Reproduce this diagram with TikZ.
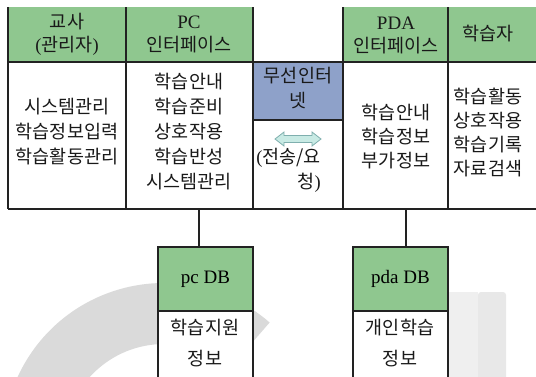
\documentclass[tikz,border=0pt]{standalone}
\usepackage{fontspec}
\setmainfont{Liberation Serif}
\newfontfamily\kr{Noto Sans CJK KR}

\definecolor{hdrgreen}{HTML}{8FC78F}
\definecolor{netblue}{HTML}{8EA1C9}
\definecolor{arrowfill}{HTML}{C8EAE4}
\definecolor{arrowline}{HTML}{7FAFAE}
\definecolor{gridline}{HTML}{222222}
\definecolor{wmgray}{HTML}{DADADA}
\definecolor{wmlight}{HTML}{EFEFEF}
\definecolor{wmbar}{HTML}{E8E8E8}

\newcommand\serifpart[1]{{\fontspec{Liberation Serif}#1}}

\begin{document}
\begin{tikzpicture}[x=1pt,y=-1pt,
  cellbox/.style={inner sep=0pt, outer sep=0pt, anchor=north west},
  hdrcell/.style={cellbox, fill=hdrgreen},
  bodycell/.style={cellbox, fill=white},
  gridrule/.style={draw=gridline, line width=1.1pt},
  label/.style={inner sep=0pt, align=center, text=black!90,
    font=\kr\fontsize{18.5}{25}\selectfont},
  hdrlabel/.style={label, font=\kr\fontsize{18.5}{23}\selectfont},
  dblabel/.style={label, font=\kr\fontsize{18.5}{31}\selectfont},
]
\useasboundingbox (0,0) rectangle (536,376);
\clip (0,0) rectangle (536,376);
\fill[white] (0,0) rectangle (536,376);

% faint backdrop shapes
\fill[wmgray] (164pt,-444pt) ++(200:161pt)
  arc[start angle=200, end angle=49, radius=161pt]
  -- (164pt,-444pt) ++(45:100pt)
  arc[start angle=45, end angle=200, radius=100pt] -- cycle;
\fill[wmlight] (449,292) rectangle (478,380);
\fill[wmbar, rounded corners=3pt] (478,292) -- (506,292) -- (506,380) -- (478,380) -- cycle;

% header row
\node[hdrcell, minimum width=118pt, minimum height=55pt] (h1) at (8,7) {};
\node[hdrcell, minimum width=127pt, minimum height=55pt] (h2) at (126,7) {};
\node[hdrcell, minimum width=105pt, minimum height=55pt] (h4) at (343,7) {};
\node[hdrcell, minimum width=90pt, minimum height=55pt] (h5) at (448,7) {};

% wireless cell
\node[cellbox, fill=netblue, minimum width=90pt, minimum height=58pt] (net) at (253,62) {};

% lower database boxes
\node[hdrcell, minimum width=95pt, minimum height=64pt] (pcdb) at (158,247) {};
\node[bodycell, minimum width=95pt, minimum height=70pt] (pcinfo) at (158,311) {};
\node[hdrcell, minimum width=95pt, minimum height=64pt] (pdadb) at (353,247) {};
\node[bodycell, minimum width=95pt, minimum height=70pt] (pdainfo) at (353,311) {};

% table rules
\path[gridrule]
  (8,7) -- (8,209)
  (126,7) -- (126,209)
  (253,7) -- (253,209)
  (343,7) -- (343,209)
  (448,7) -- (448,209)
  (8,62) -- (536,62)
  (253,120) -- (343,120)
  (8,209) -- (536,209);

% database box outlines (open at the bottom)
\path[gridrule]
  (pcinfo.south west) -- (pcdb.north west) -- (pcdb.north east) -- (pcinfo.south east)
  (pcdb.south west) -- (pcdb.south east)
  (pdainfo.south west) -- (pdadb.north west) -- (pdadb.north east) -- (pdainfo.south east)
  (pdadb.south west) -- (pdadb.south east);

% links from the table down to the databases
\coordinate (pcjoin) at (199,209);
\coordinate (pdajoin) at (406,209);
\draw[gridrule] (pcjoin) -- (pcjoin |- pcdb.north);
\draw[gridrule] (pdajoin) -- (pdajoin |- pdadb.north);

% two-way transfer arrow
\coordinate (swap) at (298,139);
\draw[draw=arrowline, fill=arrowfill, line width=0.8pt, line join=miter]
  ([shift={(-23,0)}]swap) -- ++(9,-7) -- ++(0,3.5) -- ++(28,0) -- ++(0,-3.5)
  -- ++(9,7) -- ++(-9,7) -- ++(0,-3.5) -- ++(-28,0) -- ++(0,3.5) -- cycle;

% header texts
\node[hdrlabel] (t1) at (67,34) {교사\\\serifpart{(}관리자\serifpart{)}};
\node[hdrlabel] (t2) at (189,34) {\serifpart{\fontsize{19}{23}\selectfont PC}\\인터페이스};
\node[hdrlabel] (t4) at (396,35) {\serifpart{\fontsize{19}{23}\selectfont PDA}\\인터페이스};
\node[hdrlabel] (t5) at (488,34) {학습자};

% body texts
\node[label] (b1) at (67,132) {시스템관리\\학습정보입력\\학습활동관리};
\node[label] (b2) at (189,132) {학습안내\\학습준비\\상호작용\\학습반성\\시스템관리};
\node[label] (tnet) at (298,88) {무선인터\\넷};
\node[label, align=right, anchor=east] (tx) at (321,170)
  {\serifpart{(}전송/요\\청\serifpart{)}};
\node[label, font=\kr\fontsize{18.5}{24}\selectfont] (b4) at (396,137) {학습안내\\학습정보\\부가정보};
\node[label, font=\kr\fontsize{18.5}{24}\selectfont] (b5) at (488,132) {학습활동\\상호작용\\학습기록\\자료검색};

% database texts
\node[inner sep=0pt, font=\fontsize{19}{23}\selectfont] (tpc) at (pcdb.center) {pc DB};
\node[inner sep=0pt, font=\fontsize{19}{23}\selectfont] (tpda) at (pdadb.center) {pda DB};
\node[dblabel] (ipc) at (205,343) {학습지원\\정보};
\node[dblabel] (ipda) at (400,343) {개인학습\\정보};
\end{tikzpicture}
\end{document}
